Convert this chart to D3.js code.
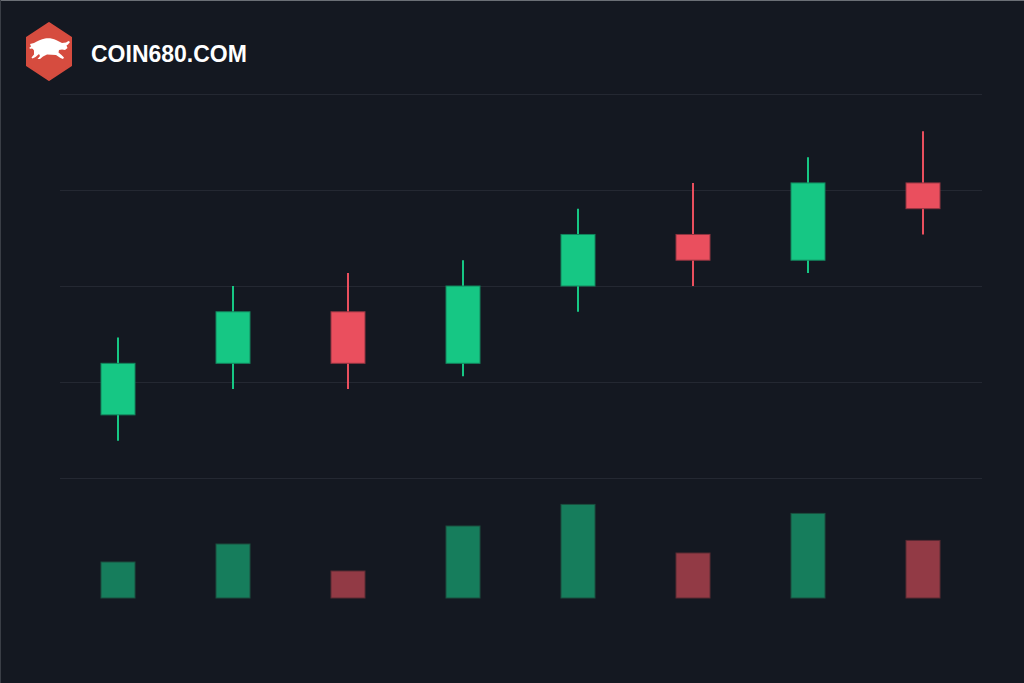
<!DOCTYPE html>
<html>
<head>
<meta charset="utf-8">
<script src="https://cdn.jsdelivr.net/npm/d3@7"></script>
<style>
  html, body { margin: 0; padding: 0; background: #141821; }
  svg { display: block; }
</style>
</head>
<body>
<svg id="chart" width="1024" height="683"></svg>
<script>
const categories = ["1", "2", "3", "4", "5", "6", "7", "8"];
const openValues  = [110, 130, 150, 130, 160, 180, 170, 200];
const highValues  = [140, 160, 165, 170, 190, 200, 210, 220];
const lowValues   = [100, 120, 120, 125, 150, 160, 165, 180];
const closeValues = [130, 150, 130, 160, 180, 170, 200, 190];
const volumeValues = [40, 60, 30, 80, 104, 50, 94, 64];
const brandText = "COIN680.COM";

const W = 1024, H = 683;
const svg = d3.select("#chart");

svg.append("rect").attr("width", W).attr("height", H).attr("fill", "#141821");
// thin border top/left
svg.append("line").attr("x1", 0).attr("x2", W).attr("y1", 0.5).attr("y2", 0.5).attr("stroke", "#6b6f76").attr("stroke-width", 1);
svg.append("line").attr("x1", 0.5).attr("x2", 0.5).attr("y1", 0).attr("y2", H).attr("stroke", "#3a3e46").attr("stroke-width", 1);

const x = d3.scaleBand().domain(categories).range([60.5, 980.5]).padding(0);
const priceDomain = [85.5, 234.5];
const y = d3.scaleLinear().domain(priceDomain).range([478, 94]);
const vy = d3.scaleLinear().domain([0, 120]).range([598, 490]);

// grid lines: evenly divide price panel
const gridVals = d3.range(5).map(i => priceDomain[0] + i * (priceDomain[1] - priceDomain[0]) / 4);
svg.append("g").selectAll("line").data(gridVals).join("line")
  .attr("x1", 60).attr("x2", 982)
  .attr("y1", d => Math.round(y(d)) + 0.5).attr("y2", d => Math.round(y(d)) + 0.5)
  .attr("stroke", "#242832").attr("stroke-width", 1);

const data = categories.map((c, i) => ({
  c, o: openValues[i], h: highValues[i], l: lowValues[i], cl: closeValues[i], v: volumeValues[i]
}));
const up = d => d.cl >= d.o;
const bodyW = 34;
const cx = d => x(d.c) + x.bandwidth() / 2;

// wicks
svg.append("g").selectAll("line").data(data).join("line")
  .attr("x1", cx).attr("x2", cx)
  .attr("y1", d => y(d.h)).attr("y2", d => y(d.l))
  .attr("stroke", d => up(d) ? "#16c784" : "#ea4f5e").attr("stroke-width", 2);

// bodies
svg.append("g").selectAll("rect").data(data).join("rect")
  .attr("x", d => cx(d) - bodyW / 2)
  .attr("y", d => y(Math.max(d.o, d.cl)))
  .attr("width", bodyW)
  .attr("height", d => Math.abs(y(d.o) - y(d.cl)))
  .attr("fill", d => up(d) ? "#16c784" : "#ea4f5e")
  .attr("stroke", d => up(d) ? "#13845c" : "#8f3440")
  .attr("stroke-width", 1);

// volume bars
svg.append("g").selectAll("rect").data(data).join("rect")
  .attr("x", d => cx(d) - bodyW / 2)
  .attr("y", d => vy(d.v))
  .attr("width", bodyW)
  .attr("height", d => vy(0) - vy(d.v))
  .attr("fill", d => up(d) ? "#167d5c" : "#923a45")
  .attr("stroke", d => up(d) ? "#1a4f3f" : "#5a2a33")
  .attr("stroke-width", 1);

// logo
const logo = svg.append("g");
const hx = 49, hy = 51.5;
const hexPts = [[0, -28.5], [22, -14], [22, 14], [0, 28.5], [-22, 14], [-22, -14]].map(p => [hx + p[0], hy + p[1]]);
logo.append("path")
  .attr("d", d3.line().curve(d3.curveLinearClosed)(hexPts))
  .attr("fill", "#d64c3f").attr("stroke", "#d64c3f").attr("stroke-width", 2).attr("stroke-linejoin", "round");
// bull silhouette
logo.append("path")
  .attr("d", "M30,44 L34,43 C38,41 41,39 45,38.5 C49,38 53,38.5 56,40 C58,41 60,42 62,43 L66,42.5 L68.5,41 L70,42 L68,44.5 L66.5,45.5 L67.5,48 L65,50 L62,49.5 L59,50 L58.5,52.5 L61.5,55 L64,57.5 L63,59 L60.5,58 L56,55 C53,55 50,54.5 47,54.5 L43,56.5 L40,59 L37.5,59 L40,56 L39,54 L35.5,57 L32.5,58.5 L31.5,57.5 L34,54.5 L34,50.5 C33,49 32,48 31,49 L29,48 L31,46.5 Z")
  .attr("fill", "#ffffff");

svg.append("text")
  .attr("x", 91).attr("y", 62)
  .attr("font-family", "Liberation Sans, Arial, sans-serif")
  .attr("font-weight", "bold").attr("font-size", 23)
  .attr("fill", "#ffffff")
  .text(brandText);
</script>
</body>
</html>
